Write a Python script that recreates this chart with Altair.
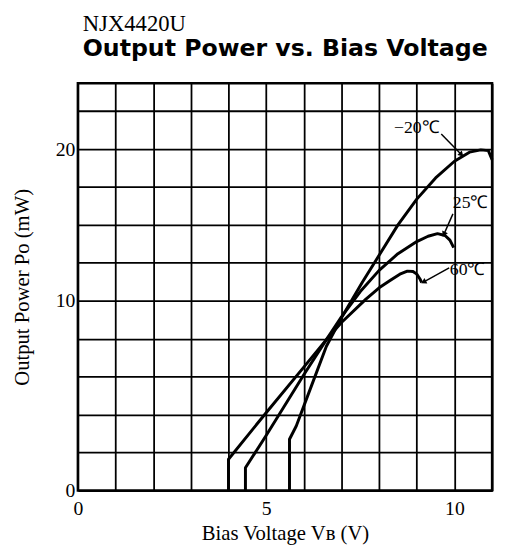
import altair as alt
import pandas as pd

# ---- data ----
vb_m20 = [5.62, 5.62, 5.8, 6.2, 6.6, 7.0, 7.55, 8.0, 8.5, 9.0, 9.5, 10.0, 10.4, 10.7, 10.9, 11.0]
po_m20 = [0.0, 2.7, 3.4, 5.5, 7.6, 9.1, 11.2, 13.0, 15.0, 16.7, 18.1, 19.2, 19.8, 19.95, 19.9, 19.3]

vb_25 = [4.45, 4.45, 5.0, 6.0, 6.6, 7.0, 7.5, 8.0, 8.5, 9.0, 9.3, 9.55, 9.75, 9.88, 9.98]
po_25 = [0.0, 1.2, 2.9, 6.1, 7.95, 9.15, 10.6, 12.0, 13.1, 13.9, 14.25, 14.42, 14.3, 14.0, 13.5]

vb_60 = [4.0, 4.0, 5.0, 6.0, 6.6, 7.0, 7.65, 8.0, 8.3, 8.55, 8.75, 8.9, 9.0, 9.08, 9.13]
po_60 = [0.0, 1.65, 4.1, 6.5, 7.95, 8.85, 10.1, 10.85, 11.35, 11.75, 11.95, 11.92, 11.75, 11.45, 11.2]

curve_labels = ["\u221220\u2103", "25\u2103", "60\u2103"]
label_x = [9.0, 10.43, 10.35]
label_y = [21.36, 16.47, 12.04]
arrow_x1 = [9.65, 9.96, 9.86]
arrow_y1 = [21.0, 15.73, 12.17]
arrow_x2 = [10.17, 9.73, 9.2]
arrow_y2 = [19.68, 14.43, 11.26]
arrow_angle = [135, 205, 242]

x_grid = list(range(0, 12))
x_labels = [0, 5, 10]
y_grid = [0, 2, 4, 6, 8, 10, 12.5, 15, 17.5, 20, 22.5]
y_labels = [0, 10, 20]

# ---- tables ----
rows = []
for name, xs, ys in [("-20", vb_m20, po_m20), ("25", vb_25, po_25), ("60", vb_60, po_60)]:
    for i, (a, b) in enumerate(zip(xs, ys)):
        rows.append({"series": name, "idx": i, "vb": a, "po": b})
curves = pd.DataFrame(rows)

ann = pd.DataFrame({
    "label": curve_labels, "lx": label_x, "ly": label_y,
    "x1": arrow_x1, "y1": arrow_y1, "x2": arrow_x2, "y2": arrow_y2, "ang": arrow_angle,
})

SERIF = "Liberation Serif"

xscale = alt.Scale(domain=[0, 11], nice=False, zero=False)
yscale = alt.Scale(domain=[0, 10, 24.35], range=[414, 221, 0], nice=False, zero=False)

x_lab_expr = " || ".join(f"datum.value == {v}" for v in x_labels)
y_lab_expr = " || ".join(f"datum.value == {v}" for v in y_labels)

xaxis = alt.Axis(values=x_grid, title="Bias Voltage V\u0299 (V)",
                 labelExpr=f"({x_lab_expr}) ? datum.label : ''",
                 labelFlush=False, labelOverlap=False,
                 labelPadding=8, titlePadding=5)
yaxis = alt.Axis(values=y_grid, title="Output Power P\u1d0f (mW)",
                 labelExpr=f"({y_lab_expr}) ? datum.label : ''",
                 labelFlush=False, labelOverlap=False,
                 labelPadding=3, titlePadding=23)

lines = alt.Chart(curves).mark_line(color="black", strokeWidth=3, strokeJoin="round").encode(
    x=alt.X("vb:Q", scale=xscale, axis=xaxis),
    y=alt.Y("po:Q", scale=yscale, axis=yaxis),
    detail="series:N",
    order="idx:Q",
)

arrows = alt.Chart(ann).mark_rule(color="black", strokeWidth=1.5).encode(
    x=alt.X("x1:Q", scale=xscale, axis=xaxis), y=alt.Y("y1:Q", scale=yscale, axis=yaxis),
    x2="x2:Q", y2="y2:Q",
)

heads = alt.Chart(ann).mark_point(shape="triangle", filled=True, color="black", size=40, opacity=1).encode(
    x=alt.X("x2:Q", scale=xscale, axis=xaxis), y=alt.Y("y2:Q", scale=yscale, axis=yaxis),
    angle=alt.Angle("ang:Q", scale=None),
)

labels = alt.Chart(ann).mark_text(font=SERIF, fontSize=18, color="black").encode(
    x=alt.X("lx:Q", scale=xscale, axis=xaxis), y=alt.Y("ly:Q", scale=yscale, axis=yaxis),
    text="label:N",
)

chart = alt.layer(lines, arrows, heads, labels).properties(
    width=421, height=414,
    autosize=alt.AutoSizeParams(type="none"),
    padding={"left": 71, "top": 72, "right": 6, "bottom": 58},
    title=alt.TitleParams(
        text="NJX4420U", subtitle="Output Power vs. Bias Voltage",
        anchor="start", frame="group", dx=5,
        font=SERIF, fontSize=23, fontWeight="normal", color="black",
        subtitleFont="DejaVu Sans", subtitleFontWeight="bold", subtitleFontSize=24,
        subtitleColor="black", subtitlePadding=1, offset=23,
    ),
).configure_view(
    stroke="black", strokeWidth=2.5,
).configure_axis(
    grid=True, gridColor="black", gridWidth=1.8, gridOpacity=1,
    domain=False, ticks=False,
    labelFont=SERIF, labelFontSize=20, labelColor="black",
    titleFont=SERIF, titleFontSize=21, titleFontWeight="normal", titleColor="black",
)

chart.save("out.html", embed_options={"renderer": "svg", "actions": False})
